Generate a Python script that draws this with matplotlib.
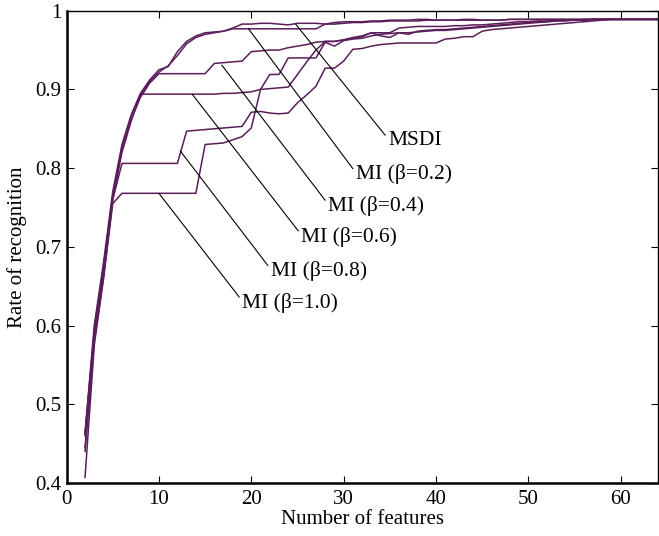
import matplotlib
matplotlib.use('Agg')
import matplotlib.pyplot as plt
from matplotlib.ticker import FuncFormatter

plt.rcParams['font.family'] = ['Liberation Serif', 'DejaVu Serif']

# number of selected features (2 .. 64)
n_features = list(range(2, 65))

msdi = [0.464, 0.600, 0.680, 0.770, 0.830, 0.868, 0.895, 0.912, 0.925, 0.929,
        0.948, 0.961, 0.968, 0.972, 0.973, 0.974, 0.978, 0.983, 0.983, 0.984,
        0.984, 0.983, 0.982, 0.984, 0.984, 0.984, 0.983, 0.985, 0.986, 0.986,
        0.986, 0.987, 0.987, 0.988, 0.988, 0.988, 0.989, 0.989, 0.988, 0.988,
        0.988, 0.989, 0.989, 0.988, 0.988, 0.988, 0.989, 0.989, 0.989, 0.989,
        0.989, 0.989, 0.989, 0.989, 0.989, 0.989, 0.989, 0.989, 0.989, 0.989,
        0.989, 0.989, 0.989]

mi_02 = [0.460, 0.595, 0.675, 0.765, 0.825, 0.862, 0.893, 0.910, 0.922, 0.930,
         0.943, 0.958, 0.966, 0.970, 0.972, 0.974, 0.977, 0.977, 0.977, 0.977,
         0.977, 0.977, 0.977, 0.977, 0.977, 0.977, 0.983, 0.983, 0.984, 0.985,
         0.985, 0.986, 0.986, 0.987, 0.987, 0.987, 0.987, 0.988, 0.988, 0.988,
         0.988, 0.988, 0.988, 0.988, 0.988, 0.988, 0.989, 0.989, 0.989, 0.989,
         0.989, 0.989, 0.989, 0.989, 0.989, 0.989, 0.989, 0.989, 0.989, 0.989,
         0.989, 0.989, 0.989]

mi_04 = [0.462, 0.590, 0.670, 0.765, 0.825, 0.862, 0.890, 0.908, 0.920, 0.920,
         0.920, 0.920, 0.920, 0.920, 0.933, 0.934, 0.935, 0.936, 0.948, 0.949,
         0.950, 0.950, 0.953, 0.955, 0.957, 0.960, 0.961, 0.961, 0.963, 0.965,
         0.967, 0.972, 0.972, 0.972, 0.978, 0.979, 0.980, 0.980, 0.980, 0.980,
         0.981, 0.981, 0.982, 0.982, 0.983, 0.984, 0.985, 0.986, 0.986, 0.987,
         0.987, 0.988, 0.988, 0.988, 0.988, 0.989, 0.989, 0.989, 0.989, 0.989,
         0.989, 0.989, 0.989]

mi_06 = [0.445, 0.585, 0.665, 0.760, 0.820, 0.860, 0.894, 0.894, 0.894, 0.894,
         0.894, 0.894, 0.894, 0.894, 0.894, 0.895, 0.895, 0.896, 0.897, 0.900,
         0.901, 0.902, 0.903, 0.919, 0.935, 0.950, 0.961, 0.961, 0.963, 0.966,
         0.968, 0.972, 0.968, 0.966, 0.972, 0.970, 0.974, 0.975, 0.976, 0.976,
         0.977, 0.978, 0.979, 0.980, 0.981, 0.982, 0.983, 0.984, 0.985, 0.986,
         0.986, 0.987, 0.987, 0.988, 0.988, 0.989, 0.989, 0.989, 0.989, 0.989,
         0.989, 0.989, 0.989]

mi_08 = [0.440, 0.580, 0.660, 0.760, 0.806, 0.806, 0.806, 0.806, 0.806, 0.806,
         0.806, 0.847, 0.848, 0.849, 0.850, 0.851, 0.852, 0.853, 0.871, 0.872,
         0.870, 0.869, 0.870, 0.883, 0.893, 0.904, 0.927, 0.927, 0.936, 0.951,
         0.952, 0.955, 0.957, 0.958, 0.959, 0.959, 0.959, 0.959, 0.959, 0.964,
         0.965, 0.967, 0.967, 0.974, 0.976, 0.977, 0.978, 0.979, 0.980, 0.981,
         0.982, 0.983, 0.984, 0.985, 0.986, 0.987, 0.988, 0.989, 0.989, 0.989,
         0.989, 0.989, 0.989]

mi_10 = [0.407, 0.575, 0.660, 0.755, 0.768, 0.768, 0.768, 0.768, 0.768, 0.768,
         0.768, 0.768, 0.768, 0.830, 0.831, 0.832, 0.836, 0.840, 0.851, 0.900,
         0.919, 0.919, 0.940, 0.940, 0.940, 0.940, 0.960, 0.955, 0.962, 0.964,
         0.965, 0.968, 0.970, 0.971, 0.972, 0.972, 0.973, 0.974, 0.975, 0.975,
         0.976, 0.977, 0.978, 0.979, 0.980, 0.981, 0.982, 0.983, 0.984, 0.985,
         0.986, 0.987, 0.988, 0.988, 0.989, 0.989, 0.989, 0.989, 0.989, 0.989,
         0.989, 0.989, 0.989]

series = [msdi, mi_02, mi_04, mi_06, mi_08, mi_10]
labels = ['MSDI', 'MI (\u03b2=0.2)', 'MI (\u03b2=0.4)', 'MI (\u03b2=0.6)',
          'MI (\u03b2=0.8)', 'MI (\u03b2=1.0)']
# where each leader line touches its curve, and where its text sits
label_point_x = [24.8, 19.7, 16.8, 13.6, 12.3, 10.0]
label_point_y = [0.983, 0.977, 0.931, 0.894, 0.822, 0.768]
label_text_x = [34.8, 31.3, 28.3, 25.4, 22.1, 19.0]
label_text_y = [0.835, 0.792, 0.752, 0.713, 0.669, 0.629]

fig = plt.figure(figsize=(6.59, 5.36), dpi=100)
ax = fig.add_axes([0.101, 0.099, 0.897, 0.881])

line_color = '#5a1d5a'
for s in series:
    ax.plot(n_features, s, color=line_color, lw=1.1)

for i in range(len(labels)):
    ax.annotate(labels[i], xy=(label_point_x[i], label_point_y[i]),
                xytext=(label_text_x[i], label_text_y[i]),
                ha='left', va='center', fontsize=15.5,
                arrowprops=dict(arrowstyle='-', color='black', lw=0.8,
                                shrinkA=0, shrinkB=0, relpos=(0, 0.6)))

ax.set_xlim(0, 64)
ax.set_ylim(0.4, 1.0)
ax.set_xticks([0, 10, 20, 30, 40, 50, 60])
ax.set_yticks([0.4, 0.5, 0.6, 0.7, 0.8, 0.9, 1.0])
ax.yaxis.set_major_formatter(FuncFormatter(lambda v, p: '%g' % round(v, 2)))
ax.tick_params(direction='in', top=True, right=True, labelsize=15, length=5)
ax.tick_params(axis='x', pad=5)
ax.set_xlabel('Number of features', fontsize=15, labelpad=1)
ax.set_ylabel('Rate of recognition', fontsize=15, labelpad=6)
for side in ['left', 'bottom']:
    ax.spines[side].set_linewidth(1.8)
for side in ['top', 'right']:
    ax.spines[side].set_linewidth(1.0)

plt.savefig('out.png', dpi=100)
plt.close()
